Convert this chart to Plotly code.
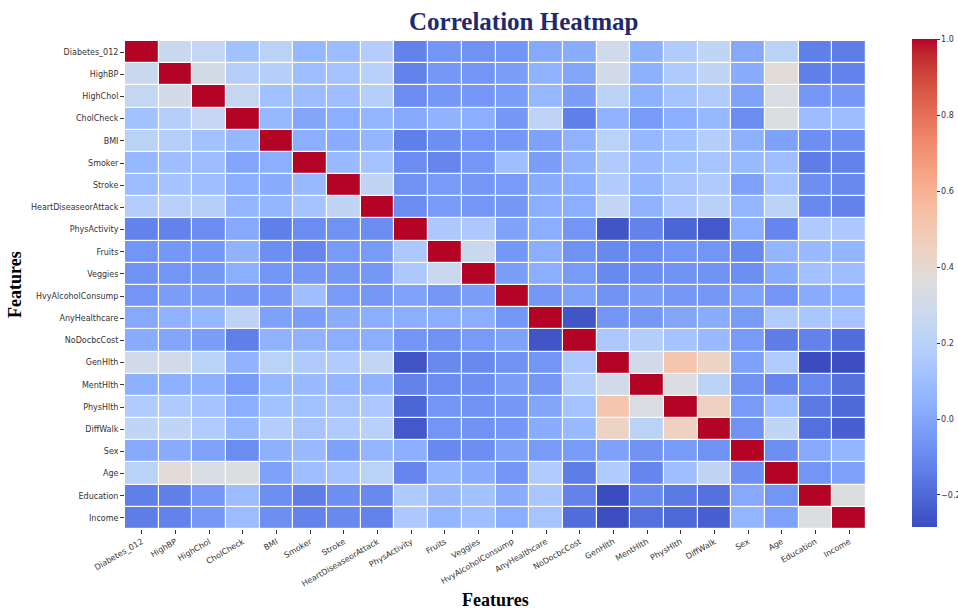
import plotly.graph_objects as go

labels = ["Diabetes_012", "HighBP", "HighChol", "CholCheck", "BMI", "Smoker", "Stroke",
          "HeartDiseaseorAttack", "PhysActivity", "Fruits", "Veggies", "HvyAlcoholConsump",
          "AnyHealthcare", "NoDocbcCost", "GenHlth", "MentHlth", "PhysHlth", "DiffWalk",
          "Sex", "Age", "Education", "Income"]

# upper-triangle correlations (row i, columns i+1 .. end)
upper = [
    [0.27, 0.25, 0.11, 0.21, 0.07, 0.09, 0.18, -0.12, -0.06, -0.07, -0.06, 0.01, 0.02, 0.30, 0.04, 0.17, 0.23, 0.01, 0.21, -0.13, -0.14],
    [0.31, 0.19, 0.19, 0.10, 0.12, 0.20, -0.12, -0.05, -0.06, -0.03, 0.05, 0.00, 0.30, 0.04, 0.16, 0.23, 0.02, 0.38, -0.13, -0.12],
    [0.25, 0.11, 0.09, 0.10, 0.19, -0.09, -0.05, -0.05, -0.03, 0.07, -0.03, 0.21, 0.04, 0.12, 0.17, -0.01, 0.33, -0.05, -0.05],
    [0.07, 0.00, 0.03, 0.06, 0.01, 0.05, 0.03, -0.05, 0.22, -0.13, 0.05, -0.04, 0.03, 0.07, -0.09, 0.35, 0.09, 0.09],
    [0.03, 0.02, 0.06, -0.13, -0.08, -0.06, -0.05, -0.02, 0.05, 0.21, 0.07, 0.11, 0.18, 0.04, -0.02, -0.08, -0.08],
    [0.08, 0.12, -0.09, -0.11, -0.05, 0.10, -0.03, 0.05, 0.16, 0.08, 0.11, 0.13, 0.08, 0.10, -0.14, -0.12],
    [0.23, -0.07, -0.04, -0.05, -0.04, 0.02, 0.03, 0.17, 0.06, 0.13, 0.16, -0.02, 0.12, -0.08, -0.10],
    [-0.09, -0.04, -0.05, -0.05, 0.03, 0.03, 0.24, 0.05, 0.15, 0.20, 0.06, 0.21, -0.10, -0.12],
    [0.15, 0.15, -0.01, 0.03, -0.06, -0.26, -0.12, -0.21, -0.25, 0.03, -0.11, 0.16, 0.15],
    [0.27, -0.05, 0.03, -0.07, -0.10, -0.09, -0.06, -0.06, -0.10, 0.06, 0.08, 0.06],
    [-0.03, 0.03, -0.04, -0.10, -0.08, -0.07, -0.07, -0.08, 0.02, 0.11, 0.10],
    [-0.05, -0.01, -0.07, -0.03, -0.05, -0.05, -0.01, -0.06, 0.02, 0.03],
    [-0.26, -0.06, -0.05, 0.00, 0.02, -0.04, 0.17, 0.14, 0.13],
    [0.15, 0.18, 0.12, 0.08, -0.04, -0.14, -0.12, -0.19],
    [0.30, 0.51, 0.44, -0.02, 0.17, -0.285, -0.28],
    [0.34, 0.21, -0.07, -0.11, -0.10, -0.18],
    [0.45, -0.04, 0.10, -0.15, -0.20],
    [-0.07, 0.23, -0.18, -0.23],
    [-0.08, 0.01, 0.06],
    [-0.06, -0.02],
    [0.35],
    [],
]

n = len(labels)
corr = [[1.0] * n for _ in range(n)]
for i, row in enumerate(upper):
    for k, v in enumerate(row):
        j = i + 1 + k
        corr[i][j] = v
        corr[j][i] = v

zmin = min(min(r) for r in corr)
zmax = 1.0

cw = [(59, 76, 192), (68, 90, 204), (77, 104, 215), (87, 117, 225), (98, 130, 234),
      (108, 142, 241), (119, 154, 247), (130, 165, 251), (141, 176, 254), (152, 185, 255),
      (163, 194, 255), (174, 201, 253), (184, 208, 249), (194, 213, 244), (204, 217, 238),
      (213, 219, 230), (221, 221, 221), (229, 216, 209), (236, 211, 197), (241, 204, 185),
      (245, 196, 173), (247, 187, 160), (247, 177, 148), (247, 166, 135), (244, 154, 123),
      (241, 141, 111), (236, 127, 99), (229, 112, 88), (222, 96, 77), (213, 80, 66),
      (203, 62, 56), (192, 40, 47), (180, 4, 38)]
colorscale = [[k / (len(cw) - 1), "rgb(%d,%d,%d)" % c] for k, c in enumerate(cw)]

cb_ticks = [-0.2, 0.0, 0.2, 0.4, 0.6, 0.8, 1.0]
cb_text = ["\u22120.2", "0.0", "0.2", "0.4", "0.6", "0.8", "1.0"]

W, H = 958, 609
ML, MR, MT, MB = 125, 92, 41, 80
PH = H - MT - MB

fig = go.Figure(go.Heatmap(
    z=corr, x=labels, y=labels,
    zmin=zmin, zmax=zmax,
    colorscale=colorscale,
    xgap=1.2, ygap=1.2,
    colorbar=dict(
        x=912 / W, xanchor="left", xref="container", xpad=0,
        y=1 - (MT + 8) / H, yanchor="top", yref="container", ypad=0,
        len=PH, lenmode="pixels",
        thickness=25, outlinewidth=0,
        tickvals=cb_ticks, ticktext=cb_text,
        ticks="outside", ticklen=3, tickcolor="#333",
        tickfont=dict(family="DejaVu Sans", size=8, color="#333"),
    ),
    hovertemplate="%{y} / %{x}: %{z:.2f}<extra></extra>",
))

fig.update_layout(
    width=W, height=H,
    margin=dict(l=ML, r=MR, t=MT, b=MB, autoexpand=False),
    paper_bgcolor="white", plot_bgcolor="white",
    xaxis=dict(tickangle=-30, ticks="outside", ticklen=4, tickcolor="#333",
               tickfont=dict(family="DejaVu Sans", size=8, color="#333"),
               showgrid=False, zeroline=False, showline=False, automargin=False),
    yaxis=dict(autorange="reversed", ticks="outside", ticklen=4, tickcolor="#333",
               tickfont=dict(family="DejaVu Sans", size=8, color="#333"),
               showgrid=False, zeroline=False, showline=False, automargin=False),
    annotations=[
        dict(text="<b>Correlation Heatmap</b>", xref="paper", yref="paper",
             x=0.538, y=1.0, yshift=20, xanchor="center", yanchor="middle",
             showarrow=False,
             font=dict(family="Liberation Serif", size=25, color="#1f2a6e")),
        dict(text="<b>Features</b>", xref="paper", yref="paper",
             x=0.5, y=0, yshift=-71, xanchor="center", yanchor="middle",
             showarrow=False,
             font=dict(family="Liberation Serif", size=18, color="black")),
        dict(text="<b>Features</b>", xref="paper", yref="paper",
             x=0, xshift=-110, y=0.5, xanchor="center", yanchor="middle",
             textangle=-90, showarrow=False,
             font=dict(family="Liberation Serif", size=18, color="black")),
    ],
)

fig.write_html("out.html")
